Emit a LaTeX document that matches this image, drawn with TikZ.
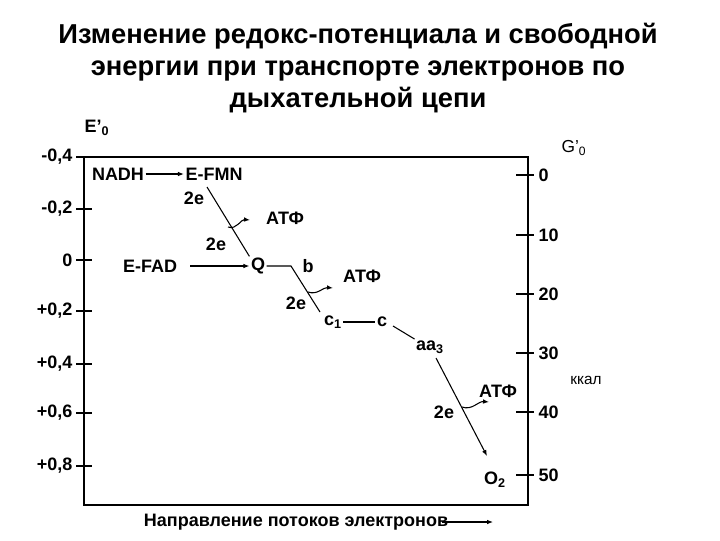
\documentclass[tikz,border=0pt]{standalone}
\usepackage{fontspec}
\setmainfont{Liberation Sans}
\usetikzlibrary{arrows.meta}
\begin{document}
\begin{tikzpicture}[x=0.75pt,y=-0.75pt,
  lbl/.style={font=\fontsize{13.5}{15}\selectfont\bfseries,inner sep=1pt},
  ttl/.style={font=\fontsize{20.5}{24}\selectfont\bfseries,align=center},
  arr/.style={-{Latex[length=4.5pt,width=3.5pt]},line width=0.8pt},
  ln/.style={line width=0.8pt}]
\useasboundingbox (0,0) rectangle (720,540);
\node[ttl] (title) at (358,68) {Изменение редокс-потенциала и свободной\\энергии при транспорте электронов по\\дыхательной цепи};
% frame
\draw[line width=1.6pt] (84,157) rectangle (528,505);
\node[lbl] (e0) at (97,128) {E'\textsubscript{0}};
\node[font=\fontsize{13}{14}\selectfont] (g0) at (574,148) {G'\textsubscript{0}};
% left ticks
\foreach \v/\y/\n in {{-0,4}/157/l1,{-0,2}/209/l2,{0}/260/l3,{+0,2}/311/l4,{+0,4}/364/l5,{+0,6}/413/l6,{+0,8}/466/l7}{
  \draw[line width=1.2pt] (76,\y) -- (92,\y);
  \node[lbl,anchor=east] (\n) at (74,\y) {\v};
}
% right ticks
\foreach \v/\y in {0/175,10/235,20/294,30/353,40/412,50/475}{
  \draw[line width=1.2pt] (516,\y) -- (534,\y);
  \node[lbl,anchor=west] at (537,\y) {\v};
}
\node[font=\fontsize{11.5}{13}\selectfont] (kkal) at (586,380) {ккал};
% chain
\node[lbl] (nadh) at (118,174) {NADH};
\node[lbl] (fmn) at (214,174) {E-FMN};
\draw[arr] (nadh) -- (fmn);
\node[lbl] (fad) at (150,266) {E-FAD};
\node[lbl] (q) at (258,266) {Q};
\draw[arr] (190,266) -- (q);
\draw[ln] (207,187) -- (q.north west);
\node[lbl] at (194,198) {2e};
\node[lbl] at (216,244) {2e};
\draw[arr] (228,227) to[out=-20,in=175] (250,220);
\node[lbl] (atp1) at (285,218) {АТФ};
\node[lbl] (b) at (308,266) {b};
\node[lbl] (c1) at (333,322) {c\textsubscript{1}};
\draw[ln] (q.east) -- (291,266) -- (320,312);
\node[lbl] at (296,303) {2e};
\draw[arr] (308,292) to[out=-20,in=175] (333,288);
\node[lbl] (atp2) at (362,276) {АТФ};
\node[lbl] (c) at (382,322) {c};
\draw[ln] (c1.east) -- (c.west);
\node[lbl] (aa3) at (430,347) {aa\textsubscript{3}};
\draw[ln] (393,326) -- (aa3.north west);
\coordinate (o2e) at (487,456);
\draw[arr] (436,358) -- (o2e);
\node[lbl] (o2) at (495,480) {O\textsubscript{2}};
\node[lbl] at (444,412) {2e};
\draw[arr] (462,407) to[out=-20,in=175] (489,402);
\node[lbl] (atp3) at (498,391) {АТФ};
% bottom
\node[lbl] (dir) at (296,522) {Направление потоков электронов};
\coordinate (dend) at (493,522);
\draw[arr] (442,522) -- (dend);
\end{tikzpicture}
\end{document}
